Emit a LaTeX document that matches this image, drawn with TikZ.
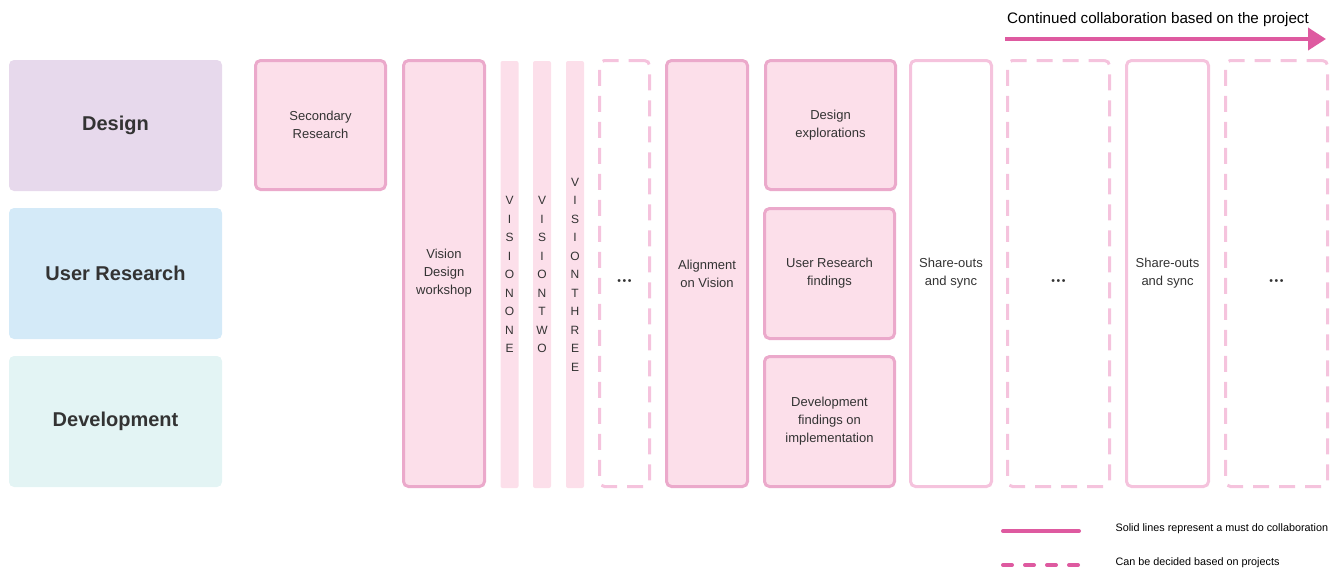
\documentclass[tikz,border=0pt]{standalone}
\usepackage{fontspec}
\setmainfont{Liberation Sans}
\usetikzlibrary{arrows.meta}

\definecolor{lanedesign}{HTML}{E7D9EC}
\definecolor{laneresearch}{HTML}{D4EAF8}
\definecolor{lanedev}{HTML}{E3F4F4}
\definecolor{cardfill}{HTML}{FCDFEA}
\definecolor{cardline}{HTML}{EBA9CB}
\definecolor{openline}{HTML}{F5C3DD}
\definecolor{arrowpink}{HTML}{DE5AA0}
\definecolor{inktext}{HTML}{333333}

\newcommand{\moredots}{\fontsize{10.5}{12}\selectfont •\kern1.6pt•\kern1.6pt•}

\begin{document}
\begin{tikzpicture}[
    x=1pt, y=-1pt,
    lane/.style={rounded corners=5pt, minimum width=213pt, minimum height=131pt,
        inner sep=0pt, text=inktext, font=\fontsize{20}{24}\selectfont\bfseries},
    card/.style={draw=cardline, fill=cardfill, line width=3pt, rounded corners=5pt,
        inner sep=0pt, align=center, text=inktext, font=\fontsize{13}{18}\selectfont},
    opencard/.style={draw=openline, line width=3pt, rounded corners=5pt,
        inner sep=0pt, align=center, text=inktext, font=\fontsize{13}{18}\selectfont},
    maybecard/.style={opencard, dash pattern=on 16pt off 10pt,
        label={[text=inktext, yshift=-9pt]center:\moredots}},
    strip/.style={fill=cardfill, rounded corners=2pt, minimum width=18pt,
        minimum height=427pt, inner sep=0pt, align=center, text=inktext,
        font=\fontsize{12}{18.5}\selectfont},
    flow/.style={arrowpink, line width=4pt, -{Triangle[length=18pt,width=22pt]}},
    keyline/.style={arrowpink, line width=4pt, line cap=round}
]
    \useasboundingbox (0,0) rectangle (1335,571);

    % rows
    \node[lane, fill=lanedesign] (design) at (115.5,125.5) {Design};
    \node[lane, fill=laneresearch] (research) at (115.5,273.5) {User Research};
    \node[lane, fill=lanedev] (dev) at (115.5,421.5) {Development};

    % first phase
    \node[card, minimum width=130pt, minimum height=129pt] (secondary) at (320.5,125) {Secondary\\Research};
    \node[card, minimum width=81pt, minimum height=426pt] (workshop) at (444,273.5) {Vision\\Design\\workshop};
    \node[strip] (vone) at (509.5,274.5) {V\\I\\S\\I\\O\\N\\O\\N\\E};
    \node[strip] (vtwo) at (542,274.5) {V\\I\\S\\I\\O\\N\\T\\W\\O};
    \node[strip] (vthree) at (575,274.5) {V\\I\\S\\I\\O\\N\\T\\H\\R\\E\\E};
    \node[maybecard, minimum width=50pt, minimum height=426pt] (more1) at (624.5,273.5) {};
    \node[card, minimum width=81pt, minimum height=426pt] (alignment) at (707,273.5) {Alignment\\on Vision};

    % findings
    \node[card, minimum width=130pt, minimum height=129pt] (explore) at (830.5,125) {Design\\explorations};
    \node[card, minimum width=130pt, minimum height=130pt] (urfind) at (829.5,273.5) {User Research\\findings};
    \node[card, minimum width=130pt, minimum height=130pt] (devfind) at (829.5,421.5) {Development\\findings on\\implementation};

    % continued collaboration
    \node[opencard, minimum width=81pt, minimum height=426pt] (share1) at (951,273.5) {Share-outs\\and sync};
    \node[maybecard, minimum width=102pt, minimum height=426pt] (more2) at (1058.5,273.5) {};
    \node[opencard, minimum width=82pt, minimum height=426pt] (share2) at (1167.5,273.5) {Share-outs\\and sync};
    \node[maybecard, minimum width=102pt, minimum height=426pt] (more3) at (1276.5,273.5) {};

    \coordinate (flowstart) at (1005,39);
    \coordinate (flowend) at (1326,39);
    \draw[flow] (flowstart) -- (flowend);
    \node[text=black, font=\fontsize{15.2}{17}\selectfont] (flowlabel) at (1158,20) {Continued collaboration based on the project};

    % legend
    \coordinate (solida) at (1003,531);
    \coordinate (solidb) at (1079,531);
    \coordinate (dasha) at (1003,565);
    \coordinate (dashb) at (1079,565);
    \draw[keyline] (solida) -- (solidb);
    \draw[keyline, dash pattern=on 9pt off 13pt] (dasha) -- (dashb);
    \node[anchor=west, text=black, font=\fontsize{10.8}{12}\selectfont] (solidtext) at (1112,529) {Solid lines represent a must do collaboration};
    \node[anchor=west, text=black, font=\fontsize{10.8}{12}\selectfont] (dashtext) at (1112,563) {Can be decided based on projects};
\end{tikzpicture}
\end{document}
